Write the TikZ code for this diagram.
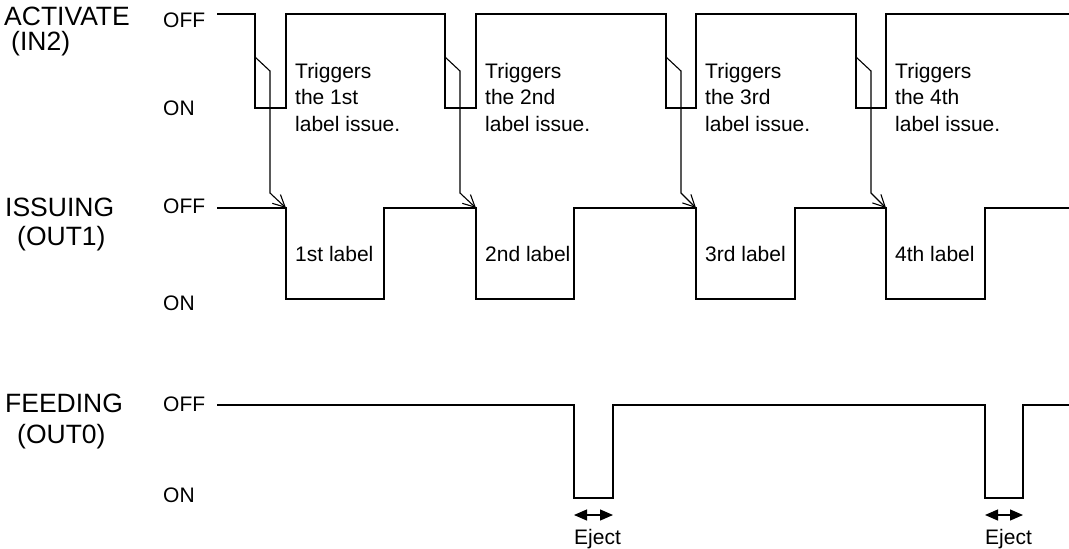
\documentclass[tikz,border=0pt]{standalone}
\usepackage{fontspec}
\setmainfont{Liberation Sans}
\usetikzlibrary{arrows.meta}

\begin{document}
\begin{tikzpicture}[x=1pt, y=-1pt, line join=miter,
      every node/.style={inner sep=0pt, anchor=base west},
      signal/.style={line width=1.7pt},
      trig/.style={line width=1.1pt, -{Straight Barb[length=12pt, width=12pt]}},
      eject/.style={line width=1.2pt, {Triangle[length=13pt, width=11pt]}-{Triangle[length=13pt, width=11pt]}},
      signame/.style={font=\fontsize{26.5}{30}\selectfont},
      txt/.style={font=\fontsize{21}{26.5}\selectfont, align=left}]
    \useasboundingbox (0,0) rectangle (1069,549);
    % ==== signal names ====
    \node[signame] (actName) at (4,25) {ACTIVATE};
    \node[signame] (actPin) at (11,50) {(IN2)};
    \node[signame] (issName) at (5,216) {ISSUING};
    \node[signame] (issPin) at (17,245) {(OUT1)};
    \node[signame] (feedName) at (5,412) {FEEDING};
    \node[signame] (feedPin) at (17,443) {(OUT0)};
    % ==== levels ====
    \node[txt] (actOff) at (163,27) {OFF};
    \node[txt] (actOn) at (163,115) {ON};
    \node[txt] (issOff) at (163,213) {OFF};
    \node[txt] (issOn) at (163,310) {ON};
    \node[txt] (feedOff) at (163,411) {OFF};
    \node[txt] (feedOn) at (163,502) {ON};
    % ==== ACTIVATE (IN2) ====
    \draw[signal] (217,14) foreach \f/\r in {255/286,445/476,666/696,856/886}{
        -- (\f,14) -- (\f,108) -- (\r,108) -- (\r,14)} -- (1069,14);
    % ==== ISSUING (OUT1) ====
    \draw[signal] (217,208) foreach \r/\e in {286/384,476/574,696/795,886/985}{
        -- (\r,208) -- (\r,299) -- (\e,299) -- (\e,208)} -- (1069,208);
    % ==== FEEDING (OUT0) ====
    \draw[signal] (217,405) foreach \e/\d in {574/613,985/1023}{
        -- (\e,405) -- (\e,498) -- (\d,498) -- (\d,405)} -- (1069,405);
    % triggers and issued labels
    \foreach \f/\r/\n in {255/286/1st,445/476/2nd,666/696/3rd,856/886/4th}{
      \coordinate (act\n) at (\f,57);
      \coordinate (iss\n) at (\r,208);
      \draw[trig] (act\n) -- ++(15,14) -- ++(0,122) -- (iss\n);
      \node[txt] (trig\n) at (\r+9,131) {Triggers\\the \n\\label issue.};
      \node[txt] (lab\n) at (\r+9,261) {\n\ label};
    }
    % eject spans
    \foreach \e/\d/\k in {574/613/1,985/1023/2}{
      \coordinate (ejA\k) at (\e,515);
      \coordinate (ejB\k) at (\d,515);
      \draw[eject] (ejA\k) -- (ejB\k);
      \node[txt] (ej\k) at (\e,544) {Eject};
    }
  \end{tikzpicture}
\end{document}
